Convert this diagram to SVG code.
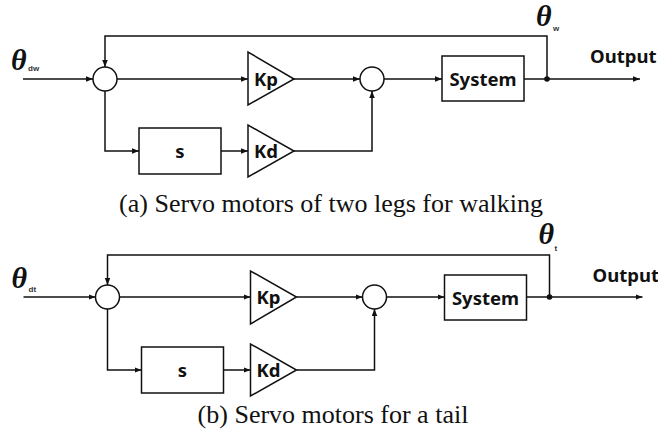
<svg xmlns="http://www.w3.org/2000/svg" width="658" height="431" viewBox="0 0 658 431">
  <defs>
    <marker id="arr" markerUnits="userSpaceOnUse" markerWidth="8" markerHeight="6" refX="7" refY="2.75" orient="auto">
      <path d="M0,0 L7,2.75 L0,5.5 z" fill="#111"/>
    </marker>
  </defs>
  <style>
    .ln { fill: none; stroke: #111; stroke-width: 1.5; }
    .arw { marker-end: url(#arr); }
    .blk { fill: #fff; stroke: #111; stroke-width: 1.5; }
    .lbl { font-family: "Noto Sans", "Liberation Sans", sans-serif; font-weight: bold; font-size: 18.5px; fill: #111; }
    .th { font-family: "Liberation Serif", "Times New Roman", serif; font-weight: bold; font-style: italic; font-size: 30px; fill: #111; }
    .sub { font-family: "Liberation Sans", Arial, sans-serif; font-weight: bold; font-size: 8px; fill: #333; }
    .cap { font-family: "Liberation Serif", "Times New Roman", serif; font-size: 26px; fill: #111; }
  </style>
  <rect width="658" height="431" fill="#fff"/>

  <!-- (a) legs controller -->
  <g id="panel-a">
    <g id="a-connectors">
      <line class="ln arw" x1="23" y1="79" x2="93" y2="79"/>
      <polyline class="ln arw" points="547,79 547,36 105,36 105,67"/>
      <line class="ln arw" x1="117" y1="79" x2="248" y2="79"/>
      <line class="ln arw" x1="294" y1="79" x2="360" y2="79"/>
      <polyline class="ln arw" points="105,91 105,151 139,151"/>
      <line class="ln arw" x1="221" y1="151" x2="248" y2="151"/>
      <polyline class="ln arw" points="294,151 372,151 372,91"/>
      <line class="ln arw" x1="384" y1="79" x2="442" y2="79"/>
      <line class="ln arw" x1="524" y1="79" x2="640" y2="79"/>
      <circle cx="547" cy="79" r="2.8" fill="#111"/>
    </g>
    <g id="a-input">
      <text class="th" x="11" y="70">θ</text>
      <text class="sub" x="28" y="71">dw</text>
    </g>
    <g id="a-sum1"><circle class="blk" cx="105" cy="79" r="12"/></g>
    <g id="a-kp">
      <polygon class="blk" points="248,52 248,105 294,79"/>
      <text class="lbl" x="266" y="85.5" text-anchor="middle">Kp</text>
    </g>
    <g id="a-s">
      <rect class="blk" x="139" y="128" width="82" height="46"/>
      <text class="lbl" x="180" y="157.5" text-anchor="middle">s</text>
    </g>
    <g id="a-kd">
      <polygon class="blk" points="248,125 248,177 294,151"/>
      <text class="lbl" x="266" y="157.5" text-anchor="middle">Kd</text>
    </g>
    <g id="a-sum2"><circle class="blk" cx="372" cy="79" r="12"/></g>
    <g id="a-system">
      <rect class="blk" x="442" y="56" width="82" height="45"/>
      <text class="lbl" x="483" y="85.5" text-anchor="middle">System</text>
    </g>
    <g id="a-output">
      <text class="th" x="536" y="26">θ</text>
      <text class="sub" x="553" y="31">w</text>
      <text class="lbl" x="590" y="63">Output</text>
    </g>
  </g>
  <text class="cap" x="331" y="212" text-anchor="middle">(a) Servo motors of two legs for walking</text>

  <!-- (b) tail controller -->
  <g id="panel-b" transform="translate(2.5,218)">
    <g id="b-connectors">
      <line class="ln arw" x1="21" y1="79" x2="93" y2="79"/>
      <polyline class="ln arw" points="547,79 547,37 105,37 105,67"/>
      <line class="ln arw" x1="117" y1="79" x2="248" y2="79"/>
      <line class="ln arw" x1="294" y1="79" x2="360" y2="79"/>
      <polyline class="ln arw" points="105,91 105,152 139,152"/>
      <line class="ln arw" x1="221" y1="152" x2="248" y2="152"/>
      <polyline class="ln arw" points="294,152 372,152 372,91"/>
      <line class="ln arw" x1="384" y1="79" x2="442" y2="79"/>
      <line class="ln arw" x1="524" y1="79" x2="640" y2="79"/>
      <circle cx="547" cy="79" r="2.8" fill="#111"/>
    </g>
    <g id="b-input">
      <text class="th" x="9" y="70">θ</text>
      <text class="sub" x="26" y="74">dt</text>
    </g>
    <g id="b-sum1"><circle class="blk" cx="105" cy="79" r="12"/></g>
    <g id="b-kp">
      <polygon class="blk" points="248,53 248,106 294,79"/>
      <text class="lbl" x="266" y="85.5" text-anchor="middle">Kp</text>
    </g>
    <g id="b-s">
      <rect class="blk" x="139" y="129" width="82" height="46"/>
      <text class="lbl" x="180" y="158.5" text-anchor="middle">s</text>
    </g>
    <g id="b-kd">
      <polygon class="blk" points="248,126 248,178 294,152"/>
      <text class="lbl" x="266" y="158.5" text-anchor="middle">Kd</text>
    </g>
    <g id="b-sum2"><circle class="blk" cx="372" cy="79" r="12"/></g>
    <g id="b-system">
      <rect class="blk" x="442" y="57" width="82" height="45"/>
      <text class="lbl" x="483" y="86.5" text-anchor="middle">System</text>
    </g>
    <g id="b-output">
      <text class="th" x="536" y="26">θ</text>
      <text class="sub" x="552" y="33">t</text>
      <text class="lbl" x="590" y="64">Output</text>
    </g>
  </g>
  <text class="cap" x="333" y="423" text-anchor="middle">(b) Servo motors for a tail</text>
</svg>
